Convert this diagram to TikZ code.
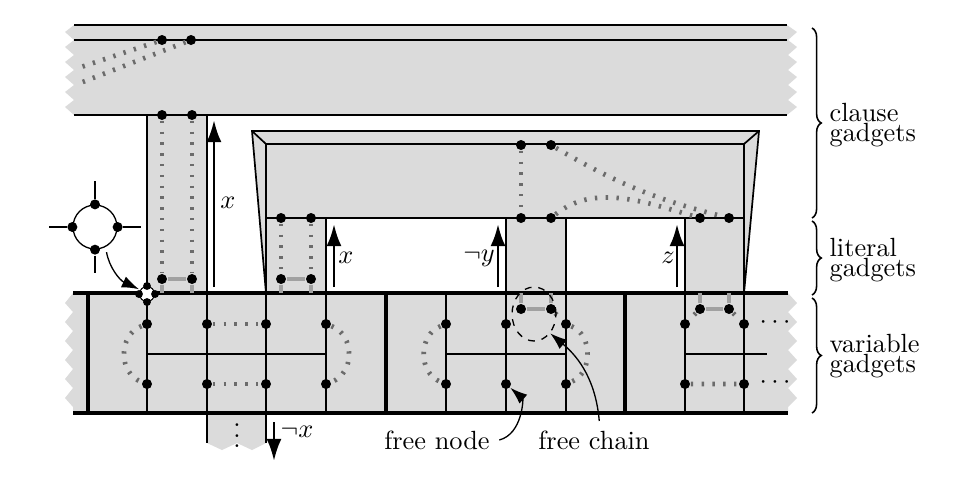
\documentclass[tikz,border=0pt]{standalone}
\usetikzlibrary{arrows.meta,decorations.pathreplacing,shapes.geometric}

\definecolor{gadgetgray}{gray}{0.86}
\definecolor{threadgray}{gray}{0.42}
\definecolor{chaingray}{gray}{0.63}

\tikzset{every picture/.style={line width=0.65pt}}
\tikzset{
  dot/.style={circle,fill=black,inner sep=0pt,minimum size=3.8pt},
  smalldot/.style={circle,fill=black,inner sep=0pt,minimum size=3pt},
  thread/.style={draw=threadgray,line width=1.8pt,dash pattern=on 0.9pt off 3.2pt},
  chain/.style={draw=chaingray,line width=1.5pt},
  wall/.style={line width=1.5pt},
  litarrow/.style={line width=1.1pt,-{Latex[length=8.4pt,width=5.7pt]}},
  pointer/.style={line width=0.5pt,-{Latex[length=6.5pt,width=4.5pt]}},
  gbrace/.style={decorate,decoration={brace,amplitude=3.5pt},line width=0.6pt},
}

\begin{document}
\begin{tikzpicture}[x=0.38pt,y=0.38pt,yscale=-1,xscale=1]
\useasboundingbox (0,0) rectangle (973,477);

%Shape: clause band [top]
\fill[gadgetgray] (74,25) -- (787,25) -- (797,32) -- (788,40) -- (797,47) -- (788,55) -- (797,62) -- (788,70) -- (797,77) -- (788,85) -- (797,92) -- (788,100) -- (797,107) -- (787,115) -- (74,115) -- (65,107) -- (74,100) -- (65,92) -- (74,85) -- (65,77) -- (74,70) -- (65,62) -- (74,55) -- (65,47) -- (74,40) -- (65,32) -- cycle ;
%Shape: variable band
\fill[gadgetgray] (73,293) -- (788,293) -- (797,303) -- (788,312) -- (797,322) -- (788,331) -- (797,341) -- (788,350) -- (797,360) -- (788,369) -- (797,379) -- (788,388) -- (797,398) -- (788,407) -- (788,413) -- (73,413) -- (73,407) -- (65,398) -- (73,388) -- (65,379) -- (73,369) -- (65,360) -- (73,350) -- (65,341) -- (73,331) -- (65,322) -- (73,312) -- (65,303) -- cycle ;
%Shape: stub below first variable gadget
\fill[gadgetgray] (207,413) -- (266,413) -- (266,443) -- (252,450) -- (237,443) -- (222,450) -- (207,443) -- cycle ;
%Shape: literal column of top clause
\fill[gadgetgray] (147,115) rectangle (207,293) ;
%Shape: second clause with its literal columns
\fill[gadgetgray] (252,131) -- (759,131) -- (744,293) -- (685,293) -- (685,218) -- (566,218) -- (566,293) -- (506,293) -- (506,218) -- (326,218) -- (326,293) -- (266,293) -- cycle ;

%Straight Lines: clauses
\draw (74,25) -- (787,25) (74,40) -- (787,40) (74,115) -- (787,115) ;
\draw (147,115) -- (147,293) (207,115) -- (207,293) ;
\draw (266,293) -- (252,131) -- (759,131) -- (744,293) ;
\draw (252,131) -- (266,144) (759,131) -- (744,144) ;
\draw (266,144) -- (744,144) (266,218) -- (744,218) ;
\draw (266,144) -- (266,293) (744,144) -- (744,293) ;
\draw (326,218) -- (326,293) (506,218) -- (506,293) (566,218) -- (566,293) (685,218) -- (685,293) ;
%Straight Lines: variables
\draw (147,293) -- (147,413) (207,293) -- (207,443) (266,293) -- (266,443) (326,293) -- (326,413) ;
\draw (446,293) -- (446,413) (506,293) -- (506,413) (566,293) -- (566,413) ;
\draw (685,293) -- (685,413) (744,293) -- (744,413) ;
\draw (147,354) -- (326,354) (446,354) -- (566,354) (685,354) -- (767,354) ;
\draw[wall] (73,293) -- (788,293) (73,413) -- (788,413) ;
\draw[wall] (88,293) -- (88,413) (386,293) -- (386,413) (625,293) -- (625,413) ;

%Nodes: clause gadgets
\node[dot] (ca1) at (162,40) {};
\node[dot] (ca2) at (191,40) {};
\node[dot] (ca3) at (162,115) {};
\node[dot] (ca4) at (192,115) {};
\node[dot] (cb1) at (521,145) {};
\node[dot] (cb2) at (551,145) {};
\node[dot] (cb3) at (281,218) {};
\node[dot] (cb4) at (311,218) {};
\node[dot] (cb5) at (521,218) {};
\node[dot] (cb6) at (551,218) {};
\node[dot] (cb7) at (700,218) {};
\node[dot] (cb8) at (729,218) {};
%Nodes: literal gadgets
\node[dot] (la1) at (162,279) {};
\node[dot] (la2) at (192,279) {};
\node[dot] (lb1) at (281,279) {};
\node[dot] (lb2) at (311,279) {};
%Nodes: variable gadgets
\node[dot] (va1) at (147,324) {};
\node[dot] (va2) at (207,324) {};
\node[dot] (va3) at (266,324) {};
\node[dot] (va4) at (326,324) {};
\node[dot] (va5) at (147,384) {};
\node[dot] (va6) at (207,384) {};
\node[dot] (va7) at (266,384) {};
\node[dot] (va8) at (326,384) {};
\node[dot] (vb1) at (446,324) {};
\node[dot] (vb2) at (506,324) {};
\node[dot] (vb3) at (566,324) {};
\node[dot] (vb4) at (446,384) {};
\node[dot] (vb5) at (506,384) {};
\node[dot] (vb6) at (566,384) {};
\node[dot] (vbc1) at (521,309) {};
\node[dot] (vbc2) at (551,309) {};
\node[dot] (vc1) at (685,324) {};
\node[dot] (vc2) at (744,324) {};
\node[dot] (vc3) at (685,384) {};
\node[dot] (vc4) at (744,384) {};
\node[dot] (vcc1) at (700,309) {};
\node[dot] (vcc2) at (729,309) {};
\coordinate (ta) at (78,68);
\coordinate (tb) at (80,83);

%Chains
\draw[chain] (la1) -- (la2) (la1) -- ++(0,14) (la2) -- ++(0,14) ;
\draw[chain] (lb1) -- (lb2) (lb1) -- ++(0,14) (lb2) -- ++(0,14) ;
\draw[chain] (vbc1) -- (vbc2) (vbc1) -- ++(0,-16) (vbc2) -- ++(0,-16) ;
\draw[chain] (vcc1) -- (vcc2) (vcc1) -- ++(0,-16) (vcc2) -- ++(0,-16) ;

%Dotted threads
\draw[thread] (ca1) -- (ta) (ca2) -- (tb) ;
\draw[thread] (ca3) -- (la1) (ca4) -- (la2) ;
\draw[thread] (cb3) -- (lb1) (cb4) -- (lb2) ;
\draw[thread] (cb1) -- (cb5) ;
\draw[thread] (cb2) to[bend left=8] (cb8) ;
\draw[thread] (cb6) to[out=-45,in=-160] (cb7) ;
\draw[thread] (va2) -- (va3) (va6) -- (va7) ;
\draw[thread] (va1) .. controls (118,335) and (118,373) .. (va5) ;
\draw[thread] (va4) .. controls (355,335) and (355,373) .. (va8) ;
\draw[thread] (vb1) .. controls (418,335) and (418,373) .. (vb4) ;
\draw[thread] (vb3) .. controls (593,335) and (593,373) .. (vb6) ;
\draw[thread] (vbc2) -- (vb3) ;
\draw[thread] (vcc1) -- (vc1) (vcc2) -- (vc2) (vc3) -- (vc4) ;

%Literal arrows
\draw[litarrow] (214,287) -- (214,120) ;
\draw[litarrow] (334,287) -- (334,224) ;
\draw[litarrow] (498,287) -- (498,224) ;
\draw[litarrow] (677,287) -- (677,224) ;
\draw[litarrow] (274,422) -- (274,461) ;

%Crossing and its magnified view
\node[circle,draw,fill=white,line width=0.4pt,minimum size=5.7pt,inner sep=0pt] (cross) at (147,294) {};
\node[smalldot] (crn) at (cross.north) {};
\node[smalldot] (crs) at (cross.south) {};
\node[smalldot] (cre) at (cross.east) {};
\node[smalldot] (crw) at (cross.west) {};
\node[circle,draw,line width=0.5pt,minimum size=16.7pt,inner sep=0pt] (mag) at (95,227) {};
\node[dot] (mgn) at (mag.north) {};
\node[dot] (mgs) at (mag.south) {};
\node[dot] (mge) at (mag.east) {};
\node[dot] (mgw) at (mag.west) {};
\draw[line width=0.5pt] (mgn) -- ++(0,-23) (mgs) -- ++(0,23) (mge) -- ++(23,0) (mgw) -- ++(-23,0) ;
\draw[pointer,shorten <=2pt] (mag.-62) to[out=80,in=-155] (crw.north) ;

%Free chain ring
\node[ellipse,draw,line width=0.5pt,dash pattern=on 2.6pt off 2.6pt,minimum width=16.7pt,minimum height=20.5pt,inner sep=0pt] (ring) at (534,314) {};

% Text Node
\node (lx1) at (228,203) {$x$};
\node (lx2) at (346,258) {$x$};
\node (lny) at (479,258) {$\neg y$};
\node (lz) at (668,258) {$z$};
\node (lnx) at (297,432) {$\neg x$};
\node (fn) at (437,440) {free node};
\node (fc) at (594,440) {free chain};
\node (vd) at (237,428) {$\vdots$};
\node (hd1) at (775,323) {$\cdots$};
\node (hd2) at (775,383) {$\cdots$};
\node[anchor=west,align=left] (cl) at (820,125) {clause\\[-4.4pt]gadgets};
\node[anchor=west,align=left] (li) at (820,260) {literal\\[-4.4pt]gadgets};
\node[anchor=west,align=left] (vr) at (820,356) {variable\\[-4.4pt]gadgets};

\draw[pointer] (fn.east) to[out=-15,in=55] (vb5) ;
\draw[pointer] ([xshift=2pt]fc.north) to[out=-95,in=40] (ring.-50) ;

%Braces
\draw[gbrace] (812,28) -- (812,218) ;
\draw[gbrace] (812,221) -- (812,295) ;
\draw[gbrace] (812,298) -- (812,413) ;

\end{tikzpicture}
\end{document}
